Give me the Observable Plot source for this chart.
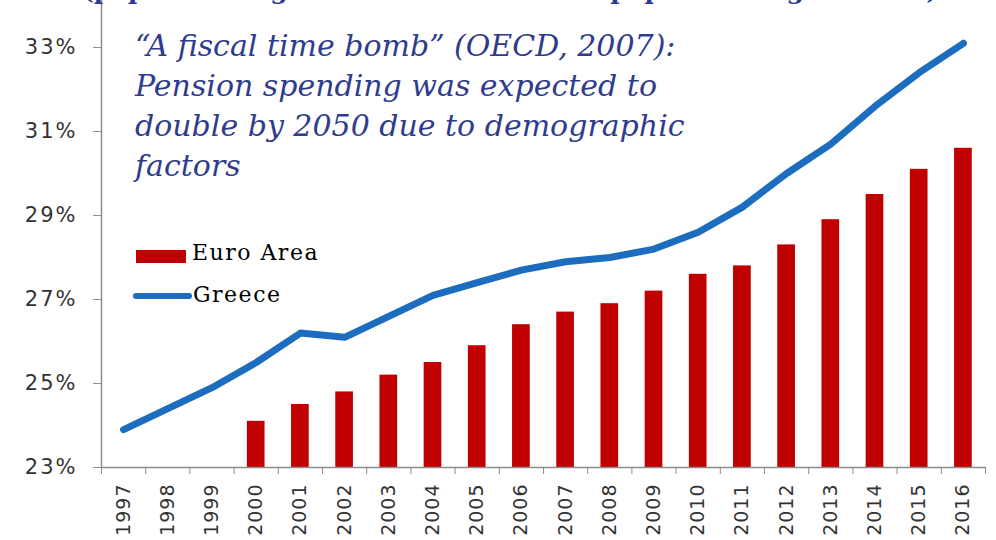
<!DOCTYPE html>
<html><head><meta charset="utf-8">
<script src="https://cdn.jsdelivr.net/npm/d3@7"></script>
<script src="https://cdn.jsdelivr.net/npm/@observablehq/plot@0.6"></script>
<style>
body{margin:0;background:#fff;width:996px;height:540px;overflow:hidden;position:relative;}
#title{position:absolute;left:0;width:1020px;text-align:center;top:-24px;font:bold 25px "DejaVu Serif";color:#2B3990;white-space:nowrap;}
#note{position:absolute;left:135px;top:26px;font:italic 30px/40px "DejaVu Serif";color:#2F3C8C;}
.leg{position:absolute;font:22px "DejaVu Serif";letter-spacing:1.5px;color:#000;}
.sw{position:absolute;}
svg [aria-label="y-axis tick label"] text{letter-spacing:2px;}
svg [aria-label="x-axis tick label"] text{letter-spacing:1px;}
</style></head><body>
<div id="chart"></div>
<div id="title">(population aged 65 and over as % of population aged 15-64)</div>
<div id="note">“A fiscal time bomb” (OECD, 2007):<br>Pension spending was expected to<br>double by 2050 due to demographic<br>factors</div>
<div class="sw" style="left:136px;top:250px;width:50px;height:13px;background:#C00000"></div>
<div class="leg" style="left:192px;top:240px">Euro Area</div>
<div class="sw" style="left:133px;top:293px;width:59px;height:6px;border-radius:3px;background:#1C6DC0"></div>
<div class="leg" style="left:193px;top:282px">Greece</div>
<script>
const years = [1997,1998,1999,2000,2001,2002,2003,2004,2005,2006,2007,2008,2009,2010,2011,2012,2013,2014,2015,2016];
const greeceValues = [23.9,24.4,24.9,25.5,26.2,26.1,26.6,27.1,27.4,27.7,27.9,28.0,28.2,28.6,29.2,30.0,30.7,31.6,32.4,33.1];
const euroYears = [2000,2001,2002,2003,2004,2005,2006,2007,2008,2009,2010,2011,2012,2013,2014,2015,2016];
const euroValues = [24.1,24.5,24.8,25.2,25.5,25.9,26.4,26.7,26.9,27.2,27.6,27.8,28.3,28.9,29.5,30.1,30.6];
const yTicks = [23,25,27,29,31,33];

const greece = years.map((year,i)=>({year, value: greeceValues[i]}));
const euro = euroYears.map((year,i)=>({year, value: euroValues[i]}));
const xDomain = [years[0]-0.5, years[years.length-1]+0.5];
const boundaries = [...years.map(y=>y-0.5), xDomain[1]];

const chart = Plot.plot({
  width:996, height:540, marginTop:47, marginBottom:73, marginLeft:101, marginRight:11,
  x:{type:"linear", domain:xDomain, label:null},
  y:{domain:[yTicks[0], yTicks[yTicks.length-1]], label:null},
  style:{fontFamily:"DejaVu Sans", fontSize:"21px", color:"#333", background:"white", overflow:"visible"},
  marks:[
    Plot.rectY(euro, {x1:d=>d.year-0.2, x2:d=>d.year+0.2, y1:yTicks[0], y2:"value", fill:"#C00000"}),
    Plot.line(greece, {x:"year", y:"value", stroke:"#1C6DC0", strokeWidth:7, strokeLinejoin:"round", strokeLinecap:"round"}),
    Plot.ruleY([yTicks[0]], {stroke:"#8c8c8c", strokeWidth:1.5}),
    Plot.ruleX([xDomain[0]], {stroke:"#8c8c8c", strokeWidth:1.5, insetTop:-47}),
    Plot.axisY({ticks:yTicks, tickFormat:d=>d+"%", tickSize:8, tickPadding:16, stroke:"#8c8c8c", fill:"#333", label:null}),
    Plot.axisX({ticks:boundaries, tickFormat:()=>"", tickSize:7, stroke:"#8c8c8c", label:null}),
    Plot.axisX({ticks:years, tickFormat:d=>String(d), tickSize:0, tickRotate:-90, tickPadding:16, fill:"#333", fontSize:19, label:null})
  ]
});
document.getElementById("chart").appendChild(chart);
</script>
</body></html>
